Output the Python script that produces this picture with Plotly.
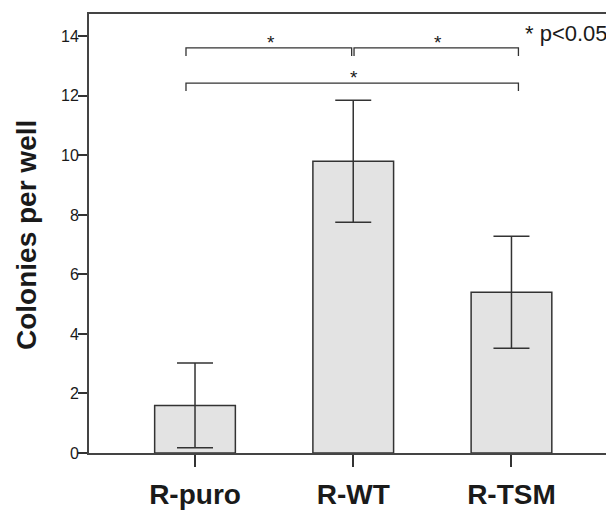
import plotly.graph_objects as go

# ---- data ----
categories = ["R-puro", "R-WT", "R-TSM"]
means = [1.6, 9.8, 5.4]
errors = [1.42, 2.05, 1.88]
y_ticks = [0, 2, 4, 6, 8, 10, 12, 14]
# significance brackets: (from category index, to category index, height)
brackets = [(0, 1, 13.61), (1, 2, 13.61), (0, 2, 12.43)]
bracket_labels = ["*", "*", "*"]
legend_note = "* p<0.05"
y_title = "Colonies per well"

FONT = "Arial, 'Liberation Sans', sans-serif"
LINE = "#333333"
TEXT = "#1a1a1a"

# The page body adds an 8px margin; the figure is sized to fill the window.
W, H = 606, 508
ML, MR, MT, MB = 81, 0, 6, 63

fig = go.Figure()
fig.add_trace(go.Bar(
    x=list(range(len(categories))),
    y=means,
    width=0.51,
    marker=dict(color="#e3e3e3", line=dict(color=LINE, width=1.5)),
    error_y=dict(type="data", array=errors, visible=True,
                 color=LINE, thickness=1.5, width=18),
    showlegend=False,
    hoverinfo="skip",
))

# bracket geometry (styling offsets in data units)
pad_left, pad_right, drop = 0.057, 0.044, 0.27
shapes = []
annotations = []
for (a, b, h), lab in zip(brackets, bracket_labels):
    x0 = a - pad_left if a == 0 else a + 0.005
    x1 = b + pad_right if b == len(categories) - 1 else b - 0.01
    path = f"M {x0},{h - drop} L {x0},{h} L {x1},{h} L {x1},{h - drop}"
    shapes.append(dict(type="path", path=path, xref="x", yref="y",
                       line=dict(color=LINE, width=1.3)))
    annotations.append(dict(x=(x0 + x1) / 2, y=h, xref="x", yref="y",
                            text=lab, showarrow=False, yanchor="bottom",
                            yshift=-7, xshift=2,
                            font=dict(family=FONT, size=19, color=TEXT)))

annotations.append(dict(x=1.0, y=1.0, xref="paper", yref="paper",
                        text=legend_note, showarrow=False,
                        xanchor="right", yanchor="top", yshift=-5, xshift=-4,
                        font=dict(family=FONT, size=22, color=TEXT)))

plot_h = H - MT - MB
plot_w = W - ML - MR
annotations.append(dict(x=(26 - 8 - ML) / plot_w, y=(H - MB - (235 - 8)) / plot_h,
                        xref="paper", yref="paper", text=y_title,
                        showarrow=False, textangle=-90,
                        xanchor="center", yanchor="middle",
                        font=dict(family=FONT, size=28, color=TEXT,
                                  weight="bold")))

fig.update_layout(
    width=W, height=H,
    margin=dict(l=ML, r=MR, t=MT, b=MB),
    plot_bgcolor="white", paper_bgcolor="white",
    shapes=shapes, annotations=annotations,
    font=dict(family=FONT, color=TEXT),
    xaxis=dict(
        range=[-0.67, 2.648],
        tickmode="array", tickvals=list(range(len(categories))),
        ticktext=categories,
        tickfont=dict(family=FONT, size=28, color=TEXT, weight="bold"),
        showline=True, mirror=True, linecolor="#444444", linewidth=2,
        ticks="outside", ticklen=12, tickwidth=1.5, tickcolor=LINE,
        showgrid=False, zeroline=False, ticklabelstandoff=3,
    ),
    yaxis=dict(
        range=[0, 14.75],
        tickmode="array", tickvals=y_ticks,
        tickfont=dict(family=FONT, size=16, color=TEXT),
        showline=True, linecolor="#444444", linewidth=2,
        ticks="outside", ticklen=9, tickwidth=1.5, tickcolor=LINE,
        showgrid=False, zeroline=False, ticklabelstandoff=-4,
    ),
)

fig.write_html("out.html")
